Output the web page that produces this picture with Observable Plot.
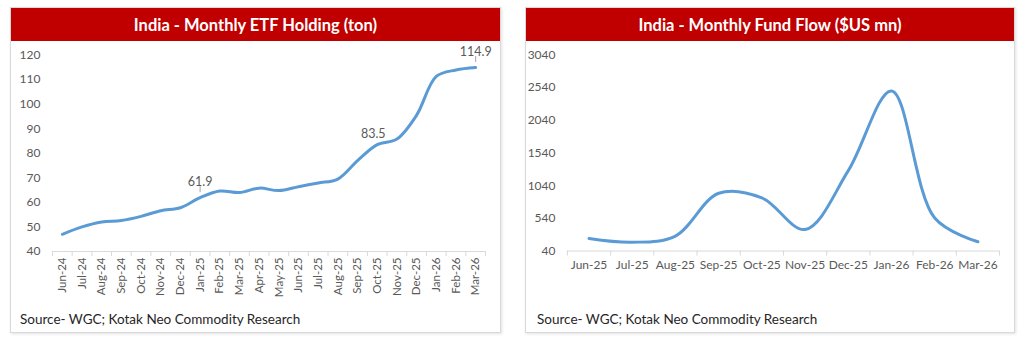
<!DOCTYPE html>
<html><head><meta charset="utf-8">
<script src="https://cdn.jsdelivr.net/npm/d3@7"></script>
<script src="https://cdn.jsdelivr.net/npm/@observablehq/plot@0.6"></script>
<style>
body{margin:0;background:#fff;width:1024px;height:342px;position:relative;overflow:hidden;font-family:Lato,"Open Sans",sans-serif;}
.panel{position:absolute;top:7px;height:326px;border:1px solid #d9d9d9;box-sizing:border-box;box-shadow:1px 1px 3px rgba(0,0,0,0.12);background:#fff;}
.hdr{position:absolute;left:0;top:0;width:100%;height:33px;background:#C00000;color:#fff;font-weight:700;font-size:16.5px;display:flex;align-items:center;justify-content:center;}
.src{position:absolute;left:9px;top:303px;font-size:13.5px;color:#262626;white-space:nowrap;}
.plot{position:absolute;left:-1px;top:33px;}
</style></head>
<body>
<div class="panel" id="p1" style="left:10px;width:491px;"><div class="hdr">India - Monthly ETF Holding (ton)</div><div class="plot" id="c1"></div><div class="src">Source- WGC; Kotak Neo Commodity Research</div></div>
<div class="panel" id="p2" style="left:525px;width:490px;"><div class="hdr">India - Monthly Fund Flow ($US mn)</div><div class="plot" id="c2"></div><div class="src" style="left:11px">Source- WGC; Kotak Neo Commodity Research</div></div>
<script>
const etfMonths = ["Jun-24","Jul-24","Aug-24","Sep-24","Oct-24","Nov-24","Dec-24","Jan-25","Feb-25","Mar-25","Apr-25","May-25","Jun-25","Jul-25","Aug-25","Sep-25","Oct-25","Nov-25","Dec-25","Jan-26","Feb-26","Mar-26"];
const etfValues = [47.0,50.0,52.0,52.6,54.3,56.6,57.8,61.9,64.6,64.0,65.8,64.8,66.4,67.9,69.5,77.0,83.5,85.8,95.5,111.3,113.9,114.9];
const etfTicks = [40,50,60,70,80,90,100,110,120];
const etfLabelled = ["Jan-25","Oct-25","Mar-26"];

const flowMonths = ["Jun-25","Jul-25","Aug-25","Sep-25","Oct-25","Nov-25","Dec-25","Jan-26","Feb-26","Mar-26"];
const flowValues = [233,175,270,925,855,370,1270,2490,545,182];
const flowTicks = [40,540,1040,1540,2040,2540,3040];

const FONT = "Lato, 'Open Sans', sans-serif";
const GRAY = "#595959";

function chart({months, values, ticks, rotate, labelled}) {
  const n = months.length;
  const data = months.map((m, i) => ({i, m, v: values[i]}));
  const lab = data.filter(d => labelled.includes(d.m));
  const marks = [
    Plot.ruleY([ticks[0]], {stroke: "#d9d9d9", strokeWidth: 1}),
    Plot.axisX(d3.range(n + 1).map(i => i - 0.5), {tickSize: 5, stroke: "#d9d9d9", tickFormat: () => "", label: null}),
    Plot.axisX(d3.range(n), {
      tickSize: 0, tickFormat: i => months[i], label: null,
      tickRotate: rotate ? -90 : 0, tickPadding: rotate ? 6 : 9,
      fontSize: rotate ? 11.5 : 12, fill: GRAY
    }),
    Plot.axisY(ticks, {tickSize: 0, tickPadding: 12, label: null, fontSize: 12, fill: GRAY, tickFormat: d => String(d)}),
    Plot.line(data, {x: "i", y: "v", curve: "catmull-rom", stroke: "#5B9BD5", strokeWidth: 3})
  ];
  if (lab.length) {
    const lead = lab.filter(d => d.m !== "Oct-25");
    const plain = lab.filter(d => d.m === "Oct-25");
    marks.push(
      Plot.ruleX(lead, {x: "i", y1: "v", y2: "v", dy: -8, insetTop: -3, insetBottom: -3, stroke: "#a6a6a6", strokeWidth: 1}),
      Plot.text(lead, {x: "i", y: "v", text: d => d.v.toFixed(1), dy: -16, fill: GRAY, fontSize: 12.5}),
      Plot.text(plain, {x: "i", y: "v", text: d => d.v.toFixed(1), dy: -11, dx: -4, fill: GRAY, fontSize: 12.5})
    );
  }
  return Plot.plot({
    width: 490, height: 260,
    marginLeft: 42, marginRight: 15, marginTop: 13.5, marginBottom: 50,
    style: {fontFamily: FONT, fontSize: "12px", color: GRAY, background: "transparent", overflow: "visible"},
    x: {type: "linear", domain: [-0.5, n - 0.5], axis: null, label: null},
    y: {domain: [ticks[0], ticks[ticks.length - 1]], axis: null, label: null},
    marks
  });
}

document.getElementById("c1").appendChild(chart({months: etfMonths, values: etfValues, ticks: etfTicks, rotate: true, labelled: etfLabelled}));
document.getElementById("c2").appendChild(chart({months: flowMonths, values: flowValues, ticks: flowTicks, rotate: false, labelled: []}));
</script>
</body></html>
